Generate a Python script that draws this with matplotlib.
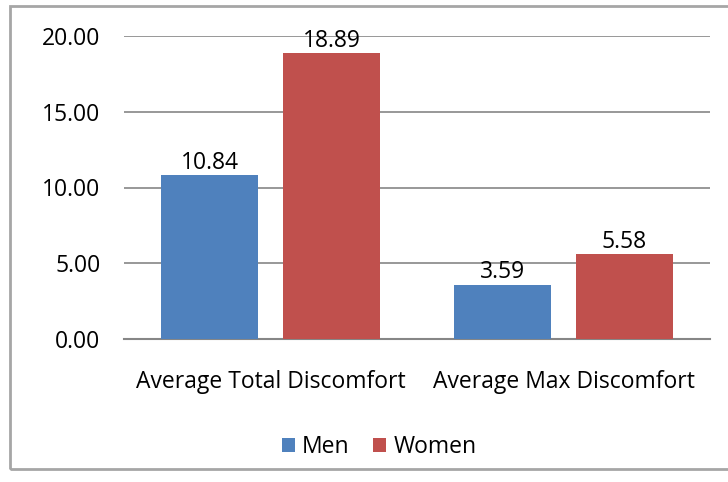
import matplotlib.pyplot as plt
from matplotlib.patches import Rectangle

plt.rcParams['font.family'] = ['Open Sans', 'DejaVu Sans']

categories = ['Average Total Discomfort', 'Average Max Discomfort']
men = [10.84, 3.59]
women = [18.89, 5.58]
yticks = [0, 5, 10, 15, 20]

fig = plt.figure(figsize=(7.28, 4.82), dpi=100)
ax = fig.add_axes([124 / 728, 1 - 339 / 482, 586 / 728, 303 / 482])

# outer chart border (right side is cut off in the original)
fig.patches.append(Rectangle((10 / 728, 1 - 469 / 482), 1.0, 463 / 482,
                             transform=fig.transFigure, fill=False,
                             edgecolor='#a6a6a6', linewidth=2))

x = range(len(categories))
w = 0.331
off = 0.208
b1 = ax.bar([i - off for i in x], men, w, color='#4F81BD', label='Men', zorder=3)
b2 = ax.bar([i + off for i in x], women, w, color='#C0504D', label='Women', zorder=3)

fs = 16.5
for bars in (b1, b2):
    for bar in bars:
        h = bar.get_height()
        ax.text(bar.get_x() + bar.get_width() / 2, h + 0.8, f'{h:.2f}',
                ha='center', va='center', fontsize=fs)

ax.set_xlim(-0.5, 1.5)
ax.set_ylim(0, 20)
ax.set_yticks(yticks)
ax.set_yticklabels([f'{v:.2f}' for v in yticks], fontsize=fs)
ax.set_xticks(list(x))
ax.set_xticklabels(categories, fontsize=fs)
ax.tick_params(axis='y', length=0, pad=17)
ax.tick_params(axis='x', length=0, pad=22)
ax.grid(axis='y', color='#868686', linewidth=1.2, zorder=0)
for s in ['top', 'right', 'left']:
    ax.spines[s].set_visible(False)
ax.spines['bottom'].set_color('#868686')
ax.spines['bottom'].set_linewidth(1.5)

fig.legend(handles=[b1, b2], labels=['Men', 'Women'], loc='center',
           bbox_to_anchor=(379 / 728, 1 - 447 / 482), ncol=2, frameon=False,
           fontsize=fs, handlelength=0.6, handleheight=0.6, handletextpad=0.3,
           columnspacing=1.0)

fig.savefig('out.png', dpi=100)
